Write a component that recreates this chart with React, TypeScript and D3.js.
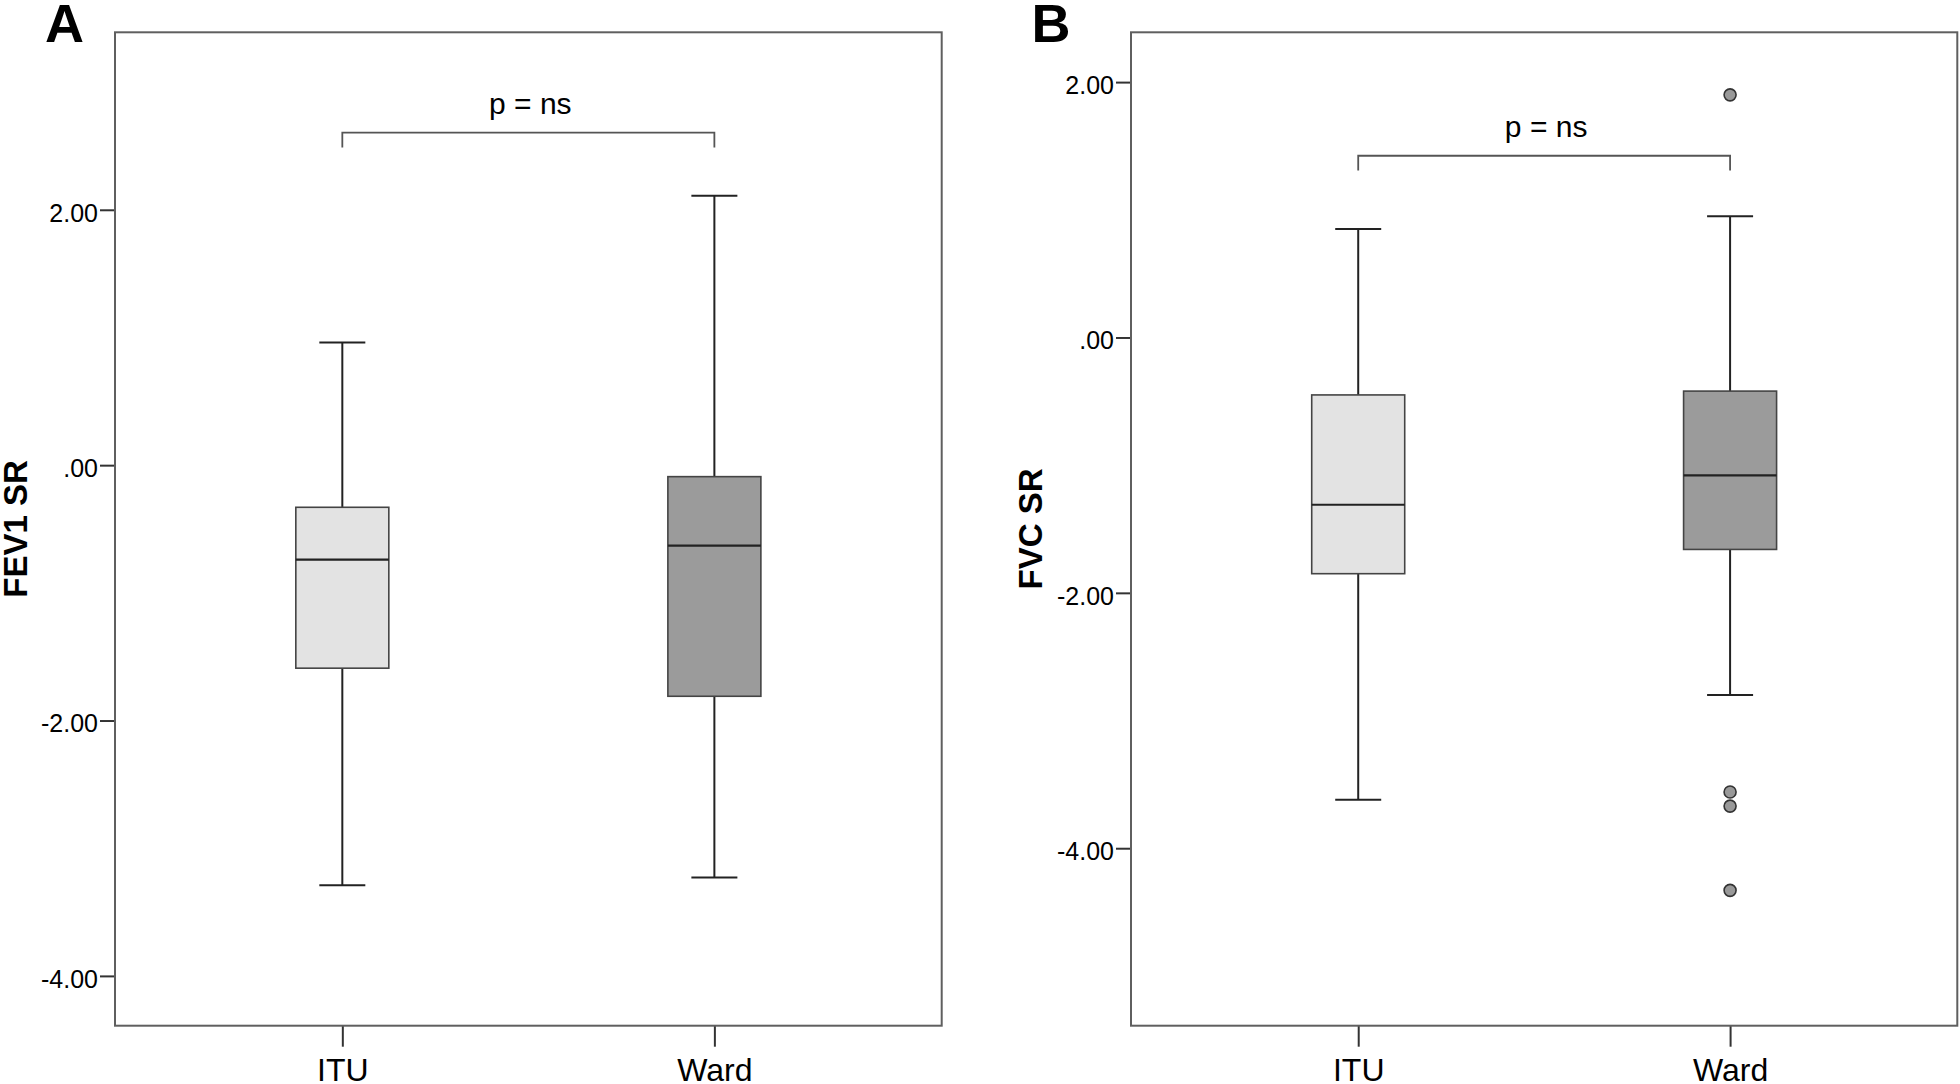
import { useEffect, useRef } from 'react';
import * as d3 from 'd3';

const groups = ['ITU', 'Ward'];
const boxFills = ['#e3e3e3', '#9b9b9b'];

// FEV1 SR boxes
const fev1Boxes = [
  { group: 'ITU', low: -3.29, q1: -1.59, median: -0.74, q3: -0.33, high: 0.96 },
  { group: 'Ward', low: -3.23, q1: -1.81, median: -0.63, q3: -0.09, high: 2.11 },
];
const fev1Outliers: { group: string; value: number }[] = [];
const fev1Ticks = [2, 0, -2, -4];
const fev1Domain = [-4.39, 3.39];

// FVC SR boxes (panel B)
const fvcBoxes = [
  { group: 'ITU', low: -3.62, q1: -1.85, median: -1.31, q3: -0.45, high: 0.85 },
  { group: 'Ward', low: -2.8, q1: -1.66, median: -1.08, q3: -0.42, high: 0.95 },
];
const fvcOutliers = [
  { group: 'Ward', value: 1.9 },
  { group: 'Ward', value: -3.56 },
  { group: 'Ward', value: -3.67 },
  { group: 'Ward', value: -4.33 },
];
const fvcTicks = [2, 0, -2, -4];
const fvcDomain = [-5.39, 2.39];

const W = 1960;
const H = 1084;
const TOP = 32.3;
const BOTTOM = 1025.7;
const FONT = '"Liberation Sans", Arial, Helvetica, sans-serif';

// SPSS style labels: ".00", "2.00", "-2.00" (plain hyphen, not the unicode minus)
const fmt = (v: d3.NumberValue) =>
  d3.format('.2f')(+v).replace('\u2212', '-').replace(/^(-?)0\./, '$1.');

interface PanelDef {
  letter: string;
  title: string;
  left: number;
  right: number;
  letterX: number;
  titleX: number;
  boxes: typeof fev1Boxes;
  outliers: { group: string; value: number }[];
  ticks: number[];
  domain: number[];
  bracket: number;
  bracketDrop: number;
}

const panels: PanelDef[] = [
  {
    letter: 'A', title: 'FEV1 SR', left: 115, right: 941.7, letterX: 45, titleX: 26.7,
    boxes: fev1Boxes, outliers: fev1Outliers, ticks: fev1Ticks, domain: fev1Domain,
    bracket: 2.604, bracketDrop: 2.487,
  },
  {
    letter: 'B', title: 'FVC SR', left: 1131, right: 1957.3, letterX: 1031.5, titleX: 1041.7,
    boxes: fvcBoxes, outliers: fvcOutliers, ticks: fvcTicks, domain: fvcDomain,
    bracket: 1.423, bracketDrop: 1.308,
  },
];

export default function App() {
  const svgRef = useRef<SVGSVGElement>(null);

  useEffect(() => {
    if (!svgRef.current) return;
    const svg = d3.select(svgRef.current);
    svg.selectAll('*').remove();

    svg.append('rect').attr('width', W).attr('height', H).attr('fill', '#fff');

    panels.forEach((p) => {
      const g = svg.append('g');
      const y = d3.scaleLinear().domain(p.domain).range([BOTTOM, TOP]);
      const x = d3.scalePoint<string>().domain(groups).range([p.left, p.right]).padding(0.611);
      const boxW = 93;
      const capW = 46;

      // y axis ticks
      const ya = g.append('g')
        .attr('transform', `translate(${p.left},0)`)
        .call(d3.axisLeft(y).tickValues(p.ticks).tickSize(15).tickPadding(2).tickFormat(fmt));
      ya.select('.domain').remove();
      ya.selectAll('line').attr('stroke', '#333').attr('stroke-width', 2);
      ya.selectAll('text')
        .attr('font-size', 25)
        .attr('font-family', FONT)
        .attr('fill', '#000')
        .attr('dy', '0.45em');

      // x axis ticks
      const xa = g.append('g')
        .attr('transform', `translate(0,${BOTTOM})`)
        .call(d3.axisBottom(x).tickSize(21).tickPadding(12));
      xa.select('.domain').remove();
      xa.selectAll('line').attr('stroke', '#333').attr('stroke-width', 2);
      xa.selectAll('text')
        .attr('font-size', 32)
        .attr('font-family', FONT)
        .attr('fill', '#000');

      // frame
      g.append('rect')
        .attr('x', p.left).attr('y', TOP)
        .attr('width', p.right - p.left).attr('height', BOTTOM - TOP)
        .attr('fill', 'none').attr('stroke', '#5f5f5f').attr('stroke-width', 2);

      // whiskers, boxes, medians
      p.boxes.forEach((b, i) => {
        const cx = x(b.group)!;
        const bg = g.append('g');
        bg.append('line').attr('x1', cx).attr('x2', cx).attr('y1', y(b.q3)).attr('y2', y(b.high))
          .attr('stroke', '#222').attr('stroke-width', 2);
        bg.append('line').attr('x1', cx).attr('x2', cx).attr('y1', y(b.q1)).attr('y2', y(b.low))
          .attr('stroke', '#222').attr('stroke-width', 2);
        [b.high, b.low].forEach((v) => {
          bg.append('line').attr('x1', cx - capW / 2).attr('x2', cx + capW / 2)
            .attr('y1', y(v)).attr('y2', y(v))
            .attr('stroke', '#222').attr('stroke-width', 2);
        });
        bg.append('rect')
          .attr('x', cx - boxW / 2).attr('width', boxW)
          .attr('y', y(b.q3)).attr('height', y(b.q1) - y(b.q3))
          .attr('fill', boxFills[i]).attr('stroke', '#444').attr('stroke-width', 1.6);
        bg.append('line').attr('x1', cx - boxW / 2).attr('x2', cx + boxW / 2)
          .attr('y1', y(b.median)).attr('y2', y(b.median))
          .attr('stroke', '#222').attr('stroke-width', 2.2);
      });

      // outliers
      g.selectAll('circle.out')
        .data(p.outliers)
        .join('circle')
        .attr('class', 'out')
        .attr('cx', (d) => x(d.group)!)
        .attr('cy', (d) => y(d.value))
        .attr('r', 6)
        .attr('fill', '#999')
        .attr('stroke', '#333')
        .attr('stroke-width', 1.6);

      // significance bracket
      const x0 = x(groups[0])!;
      const x1 = x(groups[1])!;
      g.append('path')
        .attr('d', `M${x0},${y(p.bracketDrop)}V${y(p.bracket)}H${x1}V${y(p.bracketDrop)}`)
        .attr('fill', 'none').attr('stroke', '#555').attr('stroke-width', 1.8);
      g.append('text')
        .attr('x', (x0 + x1) / 2 + 2)
        .attr('y', y(p.bracket) - 18.5)
        .attr('text-anchor', 'middle')
        .attr('font-size', 30)
        .attr('font-family', FONT)
        .text('p = ns');

      // y title
      g.append('text')
        .attr('transform', `translate(${p.titleX},${(TOP + BOTTOM) / 2}) rotate(-90)`)
        .attr('text-anchor', 'middle')
        .attr('font-size', 33)
        .attr('font-weight', 'bold')
        .attr('font-family', FONT)
        .text(p.title);

      // panel letter
      g.append('text')
        .attr('x', p.letterX)
        .attr('y', 42)
        .attr('font-size', 54)
        .attr('font-weight', 'bold')
        .attr('font-family', FONT)
        .text(p.letter);
    });
  }, []);

  return (
    <div style={{ position: 'absolute', left: 0, top: 0 }}>
      <svg ref={svgRef} width={W} height={H} style={{ display: 'block' }} />
    </div>
  );
}
